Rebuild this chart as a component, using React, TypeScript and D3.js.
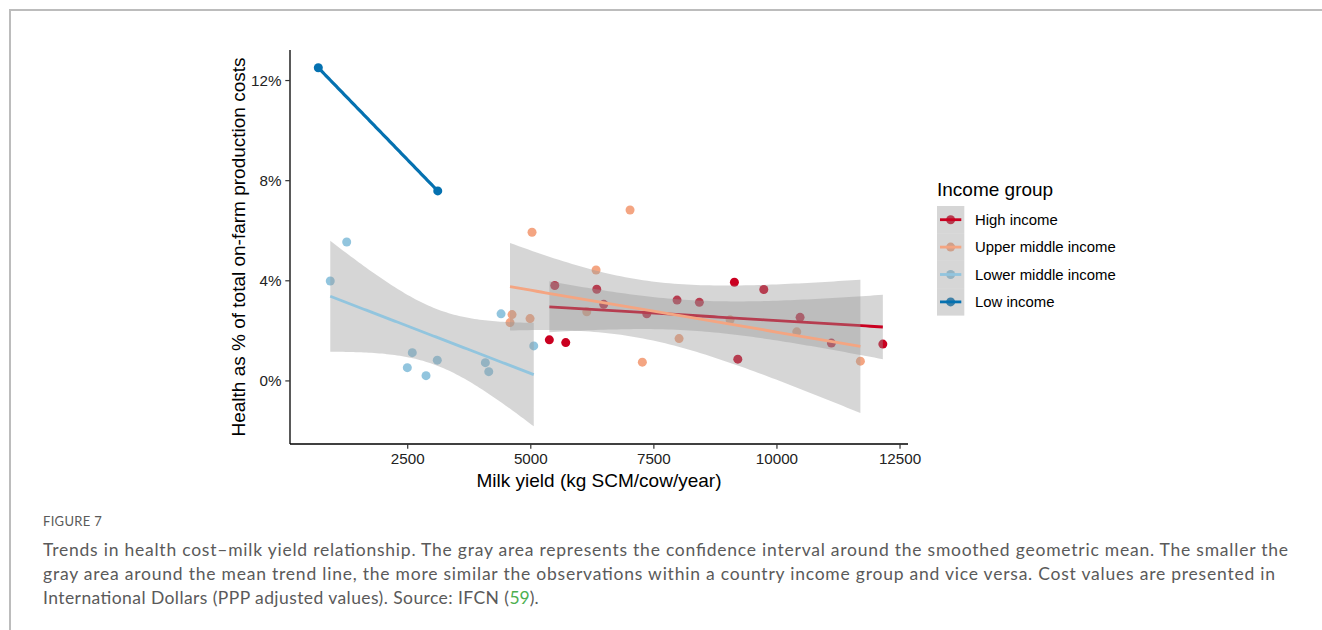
import * as d3 from 'd3'

// income groups, in legend order
const groups = ['High income', 'Upper middle income', 'Lower middle income', 'Low income']
const groupColors = ['#ca0020', '#f4a582', '#92c5de', '#0571b0']

// milk yield (kg SCM/cow/year) and health cost share (%), one pair of arrays per group
const highX = [5377, 5710, 5487, 6340, 6482, 7356, 7971, 8424, 9136, 9733, 10470, 9205, 11106, 12151]
const highY = [1.64, 1.53, 3.81, 3.66, 3.06, 2.68, 3.23, 3.14, 3.94, 3.65, 2.54, 0.87, 1.51, 1.47]
const upperX = [7016, 5025, 6326, 4619, 4578, 4985, 6137, 8012, 7266, 9048, 10403, 11695]
const upperY = [6.83, 5.94, 4.43, 2.65, 2.33, 2.49, 2.76, 1.69, 0.75, 2.44, 1.96, 0.79]
const lowerX = [927, 1261, 2593, 2492, 2872, 3101, 4077, 4146, 4396, 5060]
const lowerY = [3.99, 5.55, 1.13, 0.53, 0.21, 0.83, 0.73, 0.37, 2.68, 1.40]
const lowX = [684, 3110]
const lowY = [12.51, 7.59]

const xTicks = [2500, 5000, 7500, 10000, 12500]
const yTicks = [0, 4, 8, 12]

// 97.5% t quantiles by degrees of freedom
const tCrit: Record<number, number> = { 8: 2.306, 10: 2.228, 12: 2.179 }

const captionHead = 'FIGURE 7'
const captionLines = [
  'Trends in health cost\u2013milk yield relationship. The gray area represents the confidence interval around the smoothed geometric mean. The smaller the',
  'gray area around the mean trend line, the more similar the observations within a country income group and vice versa. Cost values are presented in',
  'International Dollars (PPP adjusted values). Source: IFCN (',
]
const captionWidths = [1245, 1232, 466]

const series = [
  { xs: highX, ys: highY },
  { xs: upperX, ys: upperY },
  { xs: lowerX, ys: lowerY },
  { xs: lowX, ys: lowY },
]

// ordinary least squares + 95% band, like geom_smooth(method = 'lm')
function smooth(xs: number[], ys: number[]) {
  const n = xs.length
  const mx = d3.mean(xs)!
  const my = d3.mean(ys)!
  const sxx = d3.sum(xs, x => (x - mx) ** 2)
  const sxy = d3.sum(xs.map((x, i) => (x - mx) * (ys[i] - my)))
  const b = sxy / sxx
  const a = my - b * mx
  const ssr = d3.sum(xs.map((x, i) => (ys[i] - a - b * x) ** 2))
  const s = n > 2 ? Math.sqrt(ssr / (n - 2)) : NaN
  const t = tCrit[n - 2]
  const [x0, x1] = d3.extent(xs) as [number, number]
  return d3.range(80).map(i => {
    const x = x0 + (x1 - x0) * i / 79
    const fit = a + b * x
    const se = s * Math.sqrt(1 / n + (x - mx) ** 2 / sxx)
    return { x, fit, lo: fit - t * se, hi: fit + t * se, band: n > 2 }
  })
}

const font = 'Liberation Sans, Arial, sans-serif'

export default function App() {
  const plot = { left: 290, right: 908, top: 50, bottom: 444 }

  const x = d3.scaleLinear().domain([109, 12662]).range([plot.left, plot.right])
  const y = d3.scaleLinear().domain([-2.52, 13.22]).range([plot.bottom, plot.top])

  const fits = series.map(sr => smooth(sr.xs, sr.ys))

  const line = d3.line<{ x: number, fit: number }>().x(d => x(d.x)).y(d => y(d.fit))
  const band = d3.area<{ x: number, lo: number, hi: number }>()
    .x(d => x(d.x)).y0(d => y(d.lo)).y1(d => y(d.hi))

  const legend = { x: 937, y: 206, w: 27.3, h: 27.4 }

  return (
    <svg width={1322} height={630} style={{ position: 'absolute', left: 0, top: 0, background: '#fff' }}>
      {/* page frame */}
      <line x1={9} x2={1322} y1={10} y2={10} stroke="#bcbcbc" strokeWidth={2} />
      <line x1={10} x2={10} y1={9} y2={630} stroke="#bcbcbc" strokeWidth={2} />

      {/* points */}
      <g>
        {series.map((sr, gi) =>
          sr.xs.map((v, i) =>
            <circle key={gi + '-' + i} cx={x(v)} cy={y(sr.ys[i])} r={4.5} fill={groupColors[gi]} />
          )
        )}
      </g>

      {/* smooths: ribbon then line, group by group */}
      {fits.map((f, gi) =>
        <g key={gi}>
          {f[0].band && <path d={band(f)!} fill="#999999" fillOpacity={0.4} />}
          <path d={line(f)!} fill="none" stroke={groupColors[gi]} strokeWidth={gi === 3 ? 3.2 : 2.8} />
        </g>
      )}

      {/* axes */}
      <g fontFamily={font} fontSize={15.2} fill="#222">
        <line x1={plot.left} x2={plot.left} y1={plot.top} y2={plot.bottom} stroke="#000" strokeWidth={1.3} />
        <line x1={plot.left} x2={plot.right} y1={plot.bottom} y2={plot.bottom} stroke="#000" strokeWidth={1.3} />
        {yTicks.map(t =>
          <g key={t}>
            <line x1={plot.left - 4.7} x2={plot.left} y1={y(t)} y2={y(t)} stroke="#333" strokeWidth={1.2} />
            <text x={plot.left - 8.5} y={y(t)} dy="0.36em" textAnchor="end">{t + '%'}</text>
          </g>
        )}
        {xTicks.map(t =>
          <g key={t}>
            <line x1={x(t)} x2={x(t)} y1={plot.bottom} y2={plot.bottom + 4.7} stroke="#333" strokeWidth={1.2} />
            <text x={x(t)} y={plot.bottom + 19.5} textAnchor="middle">{t}</text>
          </g>
        )}
      </g>
      <text x={(plot.left + plot.right) / 2} y={487} textAnchor="middle" fontFamily={font} fontSize={19} fill="#000">
        Milk yield (kg SCM/cow/year)
      </text>
      <text transform={`translate(244.5, ${(plot.top + plot.bottom) / 2}) rotate(-90)`} textAnchor="middle"
        fontFamily={font} fontSize={19} fill="#000">
        Health as % of total on-farm production costs
      </text>

      {/* legend */}
      <g fontFamily={font}>
        <text x={legend.x} y={196} fontSize={19} fill="#000">Income group</text>
        {groups.map((g, i) => {
          const cy = legend.y + legend.h * i + legend.h / 2
          return (
            <g key={g}>
              <circle cx={legend.x + legend.w / 2} cy={cy} r={4.5} fill={groupColors[i]} />
              <rect x={legend.x} y={legend.y + legend.h * i} width={legend.w} height={legend.h} fill="#999999" fillOpacity={0.4} />
              <line x1={legend.x + 3} x2={legend.x + legend.w - 3} y1={cy} y2={cy} stroke={groupColors[i]} strokeWidth={2.8} />
              <text x={975} y={cy} dy="0.36em" fontSize={14.9} fill="#000">{g}</text>
            </g>
          )
        })}
      </g>

      {/* caption */}
      <g fontFamily="Lato, 'Open Sans', sans-serif" fill="#5a5a5a">
        <text x={43} y={526} fontSize={13} letterSpacing={0.3}>{captionHead}</text>
        {captionLines.map((l, i) =>
          <text key={i} x={43} y={556 + 24 * i} fontSize={17.5}>
            <tspan textLength={captionWidths[i]} lengthAdjust="spacing">{l}</tspan>
            {i === 2 && <><tspan fill="#4caf50">59</tspan>).</>}
          </text>
        )}
      </g>
    </svg>
  )
}
